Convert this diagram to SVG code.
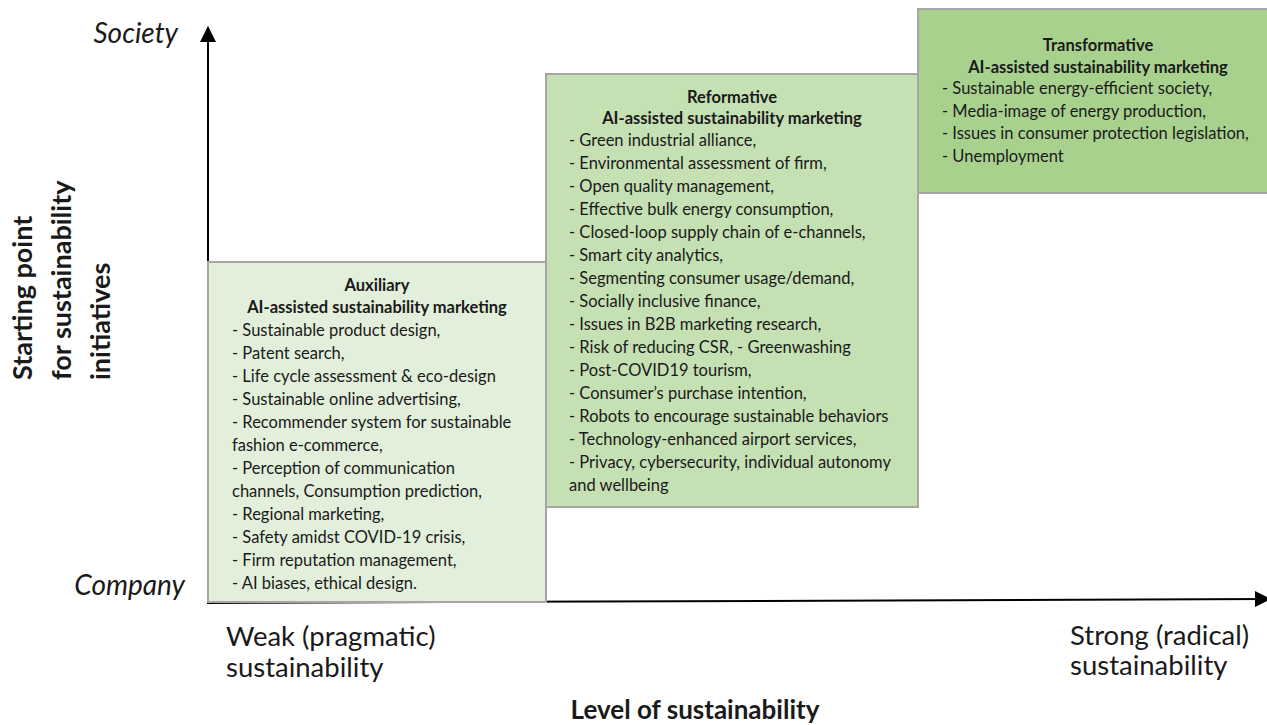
<svg xmlns="http://www.w3.org/2000/svg" width="1267" height="725" viewBox="0 0 1267 725">
<style>
.box{stroke:#a6a6a6;stroke-width:2}
.t{font-family:Lato,"Open Sans",sans-serif;fill:#1a1a1a}
.title{font-size:16.5px;font-weight:bold;text-anchor:middle}
.item{font-size:16.5px}
.ax{font-family:Lato,"Open Sans",sans-serif;fill:#1a1a1a;font-size:27.5px}
.axi{font-style:italic;font-size:28px}
.axb{font-weight:bold;font-size:26px}
.rot{font-size:27px}
.axis{stroke:#000;stroke-width:2;fill:none}
</style>
<defs>
<marker id="arr" viewBox="0 0 16 16" refX="15" refY="8" markerWidth="16" markerHeight="16" markerUnits="userSpaceOnUse" orient="auto">
<path d="M0,0 L16,8 L0,16 Z" fill="#000"/>
</marker>
</defs>
<g id="connectors">
<line class="axis" x1="208" y1="604" x2="208" y2="27" marker-end="url(#arr)"/>
<line class="axis" x1="207" y1="603" x2="1270" y2="599" marker-end="url(#arr)"/>
</g>
<g id="transformative">
<rect class="box" x="918" y="9" width="360" height="184" fill="#a9d18e"/>
<text class="t title" x="1098" y="51">Transformative</text>
<text class="t title" x="1098" y="73">AI-assisted sustainability marketing</text>
<text class="t item"><tspan x="942" y="94">- Sustainable energy-efficient society,</tspan><tspan x="942" y="117">- Media-image of energy production,</tspan><tspan x="942" y="139">- Issues in consumer protection legislation,</tspan><tspan x="942" y="162">- Unemployment</tspan></text>
</g>
<g id="reformative">
<rect class="box" x="546" y="74" width="372" height="433" fill="#c5e0b3"/>
<text class="t title" x="732" y="103">Reformative</text>
<text class="t title" x="732" y="124">AI-assisted sustainability marketing</text>
<text class="t item"><tspan x="569" y="146">- Green industrial alliance,</tspan><tspan x="569" y="169">- Environmental assessment of firm,</tspan><tspan x="569" y="192">- Open quality management,</tspan><tspan x="569" y="215">- Effective bulk energy consumption,</tspan><tspan x="569" y="238">- Closed-loop supply chain of e-channels,</tspan><tspan x="569" y="261">- Smart city analytics,</tspan><tspan x="569" y="284">- Segmenting consumer usage/demand,</tspan><tspan x="569" y="307">- Socially inclusive finance,</tspan><tspan x="569" y="330">- Issues in B2B marketing research,</tspan><tspan x="569" y="353">- Risk of reducing CSR, - Greenwashing</tspan><tspan x="569" y="376">- Post-COVID19 tourism,</tspan><tspan x="569" y="399">- Consumer’s purchase intention,</tspan><tspan x="569" y="422">- Robots to encourage sustainable behaviors</tspan><tspan x="569" y="445">- Technology-enhanced airport services,</tspan><tspan x="569" y="468">- Privacy, cybersecurity, individual autonomy</tspan><tspan x="569" y="491">and wellbeing</tspan></text>
</g>
<g id="auxiliary">
<rect class="box" x="208" y="262" width="338" height="340" fill="#e2efda"/>
<text class="t title" x="377" y="291">Auxiliary</text>
<text class="t title" x="377" y="313">AI-assisted sustainability marketing</text>
<text class="t item"><tspan x="232" y="336">- Sustainable product design,</tspan><tspan x="232" y="359">- Patent search,</tspan><tspan x="232" y="382">- Life cycle assessment &amp; eco-design</tspan><tspan x="232" y="405">- Sustainable online advertising,</tspan><tspan x="232" y="428">- Recommender system for sustainable</tspan><tspan x="232" y="451">fashion e-commerce,</tspan><tspan x="232" y="474">- Perception of communication</tspan><tspan x="232" y="497">channels, Consumption prediction,</tspan><tspan x="232" y="520">- Regional marketing,</tspan><tspan x="232" y="543">- Safety amidst COVID-19 crisis,</tspan><tspan x="232" y="566">- Firm reputation management,</tspan><tspan x="232" y="589">- AI biases, ethical design.</tspan></text>
</g>
<g id="labels">
<text class="ax axi" x="178" y="43" text-anchor="end">Society</text>
<text class="ax axi" x="185" y="595" text-anchor="end">Company</text>
<text class="ax" x="226" y="646">Weak (pragmatic)</text>
<text class="ax" x="226" y="677">sustainability</text>
<text class="ax" x="1070" y="645">Strong (radical)</text>
<text class="ax" x="1070" y="675">sustainability</text>
<text class="ax axb" x="695" y="719" text-anchor="middle">Level of sustainability</text>
<g transform="rotate(-90)">
<text class="ax axb rot" x="-380" y="32">Starting point</text>
<text class="ax axb rot" x="-380" y="71">for sustainability</text>
<text class="ax axb rot" x="-380" y="110">initiatives</text>
</g>
</g>
</svg>
